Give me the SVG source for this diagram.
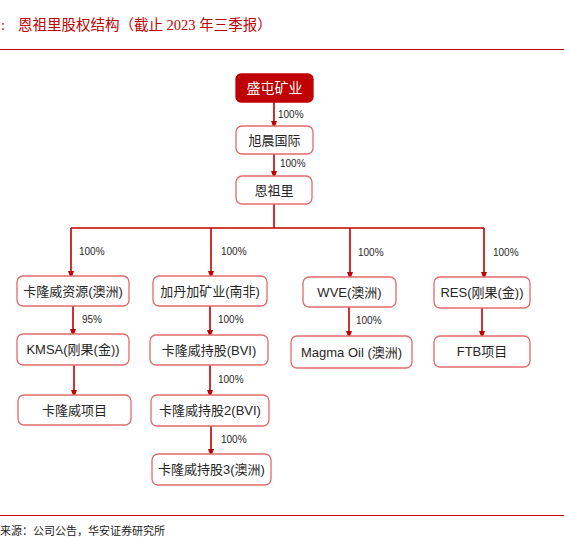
<svg xmlns="http://www.w3.org/2000/svg" width="564" height="537" viewBox="0 0 564 537">
<defs>
<marker id="ah" markerWidth="8" markerHeight="8" refX="4" refY="4" orient="auto" markerUnits="userSpaceOnUse">
<path d="M0,1 L8,4 L0,7 Z" fill="#c00000"/>
</marker>
<style>
.box{fill:#fff;stroke:#e26b6b;stroke-width:1.3}
.top{fill:#c00000;stroke:#c00000;stroke-width:1.3}
.t{font-family:"Liberation Sans","Noto Sans CJK SC",sans-serif;font-size:13px;fill:#262626;text-anchor:middle;dominant-baseline:central}
.tw{fill:#fff;font-size:14px}
.p{font-family:"Liberation Sans","Noto Sans CJK SC",sans-serif;font-size:10px;fill:#262626}
.c{fill:none;stroke:#c00000;stroke-width:1.6}
.title{font-family:"Liberation Serif","Noto Sans CJK SC",serif;font-size:14.5px;fill:#c00000}
.src{font-family:"Liberation Serif","Noto Sans CJK SC",serif;font-size:11px;fill:#222}
</style>
</defs>
<rect width="564" height="537" fill="#fff"/>
<text class="title" x="1" y="30">:</text>
<text class="title" x="18" y="30">恩祖里股权结构（截止 2023 年三季报）</text>
<line x1="0" y1="49.5" x2="564" y2="49.5" stroke="#c00000" stroke-width="1"/>
<line x1="0" y1="515.5" x2="564" y2="515.5" stroke="#c00000" stroke-width="1"/>
<text class="src" x="0" y="535">来源：公司公告，华安证券研究所</text>

<g id="connectors">
<path class="c" d="M274,102 V125" marker-end="url(#ah)"/>
<path class="c" d="M274,154 V175" marker-end="url(#ah)"/>
<path class="c" d="M274,204 V228 M71,228 H484"/>
<path class="c" d="M71,228 V275" marker-end="url(#ah)"/>
<path class="c" d="M211,228 V275" marker-end="url(#ah)"/>
<path class="c" d="M350,228 V276" marker-end="url(#ah)"/>
<path class="c" d="M484,228 V276" marker-end="url(#ah)"/>
<path class="c" d="M73,306 V333" marker-end="url(#ah)"/>
<path class="c" d="M74,365 V394" marker-end="url(#ah)"/>
<path class="c" d="M210,306 V334" marker-end="url(#ah)"/>
<path class="c" d="M210,365 V394" marker-end="url(#ah)"/>
<path class="c" d="M211,426 V453" marker-end="url(#ah)"/>
<path class="c" d="M349,307 V335" marker-end="url(#ah)"/>
<path class="c" d="M482,308 V335" marker-end="url(#ah)"/>
<text class="p" x="278" y="118">100%</text>
<text class="p" x="280" y="167">100%</text>
<text class="p" x="79" y="255">100%</text>
<text class="p" x="221" y="255">100%</text>
<text class="p" x="358" y="256">100%</text>
<text class="p" x="493" y="256">100%</text>
<text class="p" x="82" y="323">95%</text>
<text class="p" x="218" y="323">100%</text>
<text class="p" x="356" y="324">100%</text>
<text class="p" x="218" y="383">100%</text>
<text class="p" x="221" y="443">100%</text>
</g>

<g id="n1"><rect class="top" x="236" y="74" width="77" height="28" rx="5"/><text class="t tw" x="274.5" y="88">盛屯矿业</text></g>
<g id="n2"><rect class="box" x="236" y="126" width="77" height="28" rx="6"/><text class="t" x="274.5" y="140">旭晨国际</text></g>
<g id="n3"><rect class="box" x="236" y="176" width="76" height="28" rx="6"/><text class="t" x="274" y="190">恩祖里</text></g>
<g id="n4"><rect class="box" x="17" y="276" width="112" height="30" rx="6"/><text class="t" x="73" y="291">卡隆威资源(澳洲)</text></g>
<g id="n5"><rect class="box" x="153" y="276" width="114" height="30" rx="6"/><text class="t" x="210" y="291">加丹加矿业(南非)</text></g>
<g id="n6"><rect class="box" x="303" y="277" width="93" height="30" rx="6"/><text class="t" x="349.5" y="292">WVE(澳洲)</text></g>
<g id="n7"><rect class="box" x="434" y="277" width="96" height="31" rx="6"/><text class="t" x="482" y="292.5">RES(刚果(金))</text></g>
<g id="n8"><rect class="box" x="17" y="334" width="112" height="31" rx="6"/><text class="t" x="73" y="349.5">KMSA(刚果(金))</text></g>
<g id="n9"><rect class="box" x="18" y="395" width="113" height="30" rx="6"/><text class="t" x="74.5" y="410">卡隆威项目</text></g>
<g id="n10"><rect class="box" x="150" y="335" width="118" height="30" rx="6"/><text class="t" x="209" y="350">卡隆威持股(BVI)</text></g>
<g id="n11"><rect class="box" x="151" y="395" width="118" height="31" rx="6"/><text class="t" x="210" y="410.5">卡隆威持股2(BVI)</text></g>
<g id="n12"><rect class="box" x="152" y="454" width="119" height="31" rx="6"/><text class="t" x="211.5" y="469.5">卡隆威持股3(澳洲)</text></g>
<g id="n13"><rect class="box" x="291" y="336" width="121" height="32" rx="6"/><text class="t" x="351.5" y="352">Magma Oil (澳洲)</text></g>
<g id="n14"><rect class="box" x="434" y="336" width="96" height="31" rx="6"/><text class="t" x="482" y="351.5">FTB项目</text></g>
</svg>
